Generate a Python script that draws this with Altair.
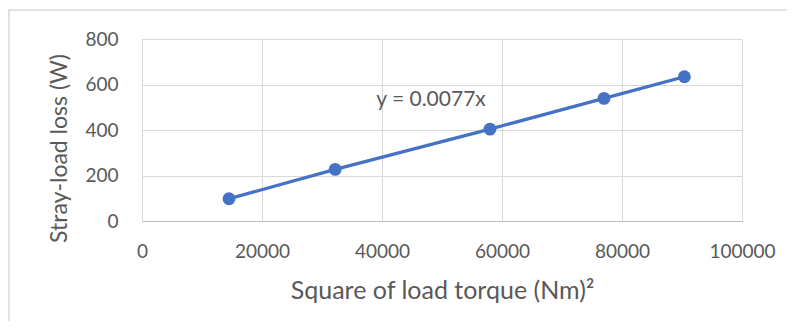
import altair as alt
import pandas as pd

torque_sq = [14500, 32200, 58000, 77000, 90400]
loss = [98, 227, 404, 539, 634]
x_ticks = [0, 20000, 40000, 60000, 80000, 100000]
y_ticks = [0, 200, 400, 600, 800]
eq_label = "y = 0.0077x"

df = pd.DataFrame({"x": torque_sq, "y": loss})
FONT = "Lato"
BLUE = "#4472C4"
TXT = "#595959"

xs = alt.X("x:Q", scale=alt.Scale(domain=[0, 100000], nice=False),
           axis=alt.Axis(values=x_ticks, title="Square of load torque (Nm)²", format="d",
                         grid=True, gridColor="#D9D9D9", domainColor="#BFBFBF",
                         ticks=False, labelPadding=21, labelFontSize=19, labelColor=TXT,
                         labelFont=FONT, titleFont=FONT, titleFontSize=25, titleFontWeight="normal",
                         titleColor=TXT, titlePadding=17, labelFlush=False))
ys = alt.Y("y:Q", scale=alt.Scale(domain=[0, 800], nice=False),
           axis=alt.Axis(values=y_ticks, title="Stray-load loss (W)", grid=True,
                         gridColor="#D9D9D9", domain=False, ticks=False, labelPadding=24,
                         labelFontSize=19, labelColor=TXT, labelFont=FONT, titleFont=FONT,
                         titleFontSize=23, titleFontWeight="normal", titleColor=TXT,
                         titleX=-83, titleY=109, titleAngle=270, titleBaseline="middle",
                         titleAlign="center"))

base = alt.Chart(df)
line = base.mark_line(color=BLUE, strokeWidth=3.2).encode(x=xs, y=ys)
pts = base.mark_circle(color=BLUE, size=165, opacity=1).encode(x="x:Q", y="y:Q")
label = alt.Chart(pd.DataFrame({"t": [eq_label]})).mark_text(
    font=FONT, fontSize=21, color=TXT).encode(x=alt.value(289), y=alt.value(61), text="t:N")
border = alt.Chart(pd.DataFrame({"a": [0]})).mark_rect(
    fill=None, stroke="#D9D9D9", strokeWidth=1.5).encode(
    x=alt.value(-133), x2=alt.value(700), y=alt.value(-29), y2=alt.value(330))

chart = alt.layer(border, line, pts, label).properties(
    width=600, height=182,
    autosize=alt.AutoSizeParams(type="none"),
    padding={"left": 134, "top": 31, "right": 45, "bottom": 100},
).configure_view(stroke=None).configure(background="white")

chart.save("out.html", embed_options={"renderer": "svg", "actions": False})
